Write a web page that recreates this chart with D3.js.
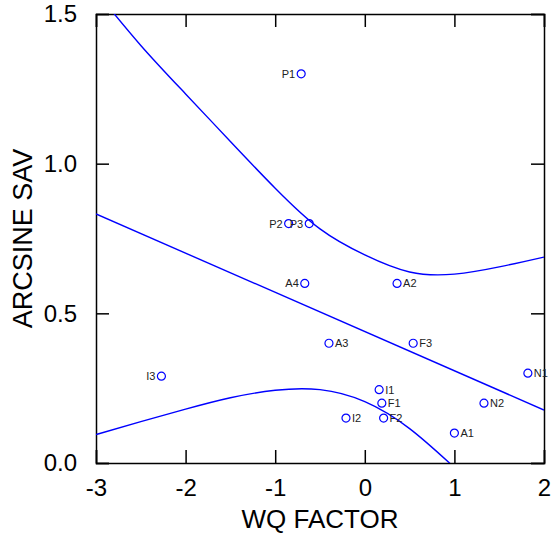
<!DOCTYPE html>
<html>
<head>
<meta charset="utf-8">
<script src="https://cdn.jsdelivr.net/npm/d3@7"></script>
<style>
  body { margin: 0; background: #fff; }
  text { font-family: Arial, "Liberation Sans", sans-serif; }
</style>
</head>
<body>
<div id="chart-container"></div>
<script>
// station points (WQ factor score vs arcsine SAV)
const siteLabels = ['P1', 'P2', 'P3', 'A4', 'A2', 'A3', 'F3', 'N1', 'I1', 'F1', 'N2', 'F2', 'I2', 'A1', 'I3'];
const wqFactor = [-0.71, -0.85, -0.62, -0.67, 0.36, -0.40, 0.54, 1.82, 0.16, 0.19, 1.33, 0.21, -0.21, 1.00, -2.27];
const arcsineSav = [1.30, 0.80, 0.80, 0.60, 0.60, 0.40, 0.40, 0.30, 0.245, 0.20, 0.20, 0.15, 0.15, 0.10, 0.29];
const labelLeft = ['P1', 'P2', 'P3', 'A4', 'I3'];

// regression line ends
const fitX = [-3, 2];
const fitY = [0.832, 0.177];

// confidence band
const upperX = [-3, -2.5, -2, -1.5, -1, -0.5, 0, 0.5, 1, 1.5, 2];
const upperY = [1.575, 1.395, 1.233, 1.074, 0.918, 0.782, 0.695, 0.638, 0.631, 0.655, 0.688];
const lowerX = [-3, -2.5, -2, -1.5, -1, -0.5, 0, 0.5, 1];
const lowerY = [0.095, 0.138, 0.180, 0.218, 0.243, 0.245, 0.205, 0.115, -0.015];

const xTicks = [-3, -2, -1, 0, 1, 2];
const yTicks = [0, 0.5, 1.0, 1.5];

const margin = {top: 14, right: 9, bottom: 72, left: 96};
const width = 553 - margin.left - margin.right;
const height = 535 - margin.top - margin.bottom;

const svg = d3.select('#chart-container')
    .append('svg')
    .attr('width', 553)
    .attr('height', 535)
    .append('g')
    .attr('transform', `translate(${margin.left}, ${margin.top})`);

const x = d3.scaleLinear().domain([-3, 2]).range([0, width]);
const y = d3.scaleLinear().domain([0, 1.5]).range([height, 0]);

svg.append('clipPath')
    .attr('id', 'plot-clip')
    .append('rect')
    .attr('width', width)
    .attr('height', height);

// axes, ticks pointing inwards on all four sides
const tickLen = 13;
const fmtY = d3.format('.1f');
svg.append('g')
    .attr('transform', `translate(0, ${height})`)
    .call(d3.axisBottom(x).tickValues(xTicks).tickSize(-tickLen).tickPadding(tickLen + 3).tickFormat((d) => String(d)))
    .call((g) => g.selectAll('text').attr('font-size', '24px').attr('fill', '#000'));
svg.append('g')
    .call(d3.axisTop(x).tickValues(xTicks).tickSize(-tickLen).tickFormat(''));
svg.append('g')
    .call(d3.axisLeft(y).tickValues(yTicks).tickSize(-tickLen).tickPadding(tickLen + 6).tickFormat(fmtY))
    .call((g) => g.selectAll('text').attr('font-size', '24px').attr('fill', '#000'));
svg.append('g')
    .attr('transform', `translate(${width}, 0)`)
    .call(d3.axisRight(y).tickValues(yTicks).tickSize(-tickLen).tickFormat(''));
svg.selectAll('.domain').attr('stroke', '#000').attr('stroke-width', 1.5);
svg.selectAll('.tick line').attr('stroke', '#000').attr('stroke-width', 1.5);

// axis titles
svg.append('text')
    .attr('x', width / 2)
    .attr('y', height + 65)
    .attr('text-anchor', 'middle')
    .attr('font-size', '26px')
    .text('WQ FACTOR');
svg.append('text')
    .attr('transform', `translate(${-margin.left + 32}, ${height / 2}) rotate(-90)`)
    .attr('text-anchor', 'middle')
    .attr('font-size', '27px')
    .text('ARCSINE SAV');

// lines
const plot = svg.append('g').attr('clip-path', 'url(#plot-clip)');
const line = d3.line()
    .x((d) => x(d[0]))
    .y((d) => y(d[1]))
    .curve(d3.curveNatural);

plot.append('path')
    .datum(d3.zip(fitX, fitY))
    .attr('d', line)
    .attr('fill', 'none')
    .attr('stroke', '#0000ff')
    .attr('stroke-width', 1.4);
plot.append('path')
    .datum(d3.zip(upperX, upperY))
    .attr('d', line)
    .attr('fill', 'none')
    .attr('stroke', '#0000ff')
    .attr('stroke-width', 1.4);
plot.append('path')
    .datum(d3.zip(lowerX, lowerY))
    .attr('d', line)
    .attr('fill', 'none')
    .attr('stroke', '#0000ff')
    .attr('stroke-width', 1.4);

// points with labels
const points = siteLabels.map((s, i) => ({label: s, x: wqFactor[i], y: arcsineSav[i]}));
const pt = svg.append('g')
    .selectAll('g')
    .data(points)
    .enter()
    .append('g')
    .attr('transform', (d) => `translate(${x(d.x)}, ${y(d.y)})`);
pt.append('circle')
    .attr('r', 4)
    .attr('fill', 'none')
    .attr('stroke', '#0000ff')
    .attr('stroke-width', 1.2);
pt.append('text')
    .attr('x', (d) => labelLeft.includes(d.label) ? -6 : 6)
    .attr('y', 4)
    .attr('text-anchor', (d) => labelLeft.includes(d.label) ? 'end' : 'start')
    .attr('font-size', '11px')
    .attr('fill', '#222')
    .text((d) => d.label);
</script>
</body>
</html>
